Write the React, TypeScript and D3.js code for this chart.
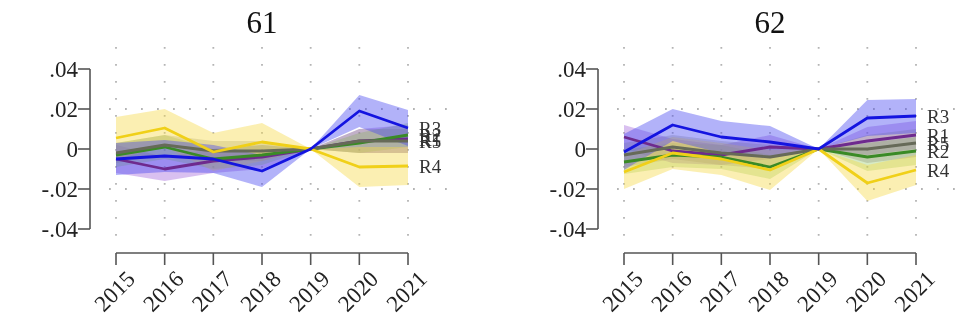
import React, { useRef, useEffect } from "react";
import * as d3 from "d3";

const years = [2015, 2016, 2017, 2018, 2019, 2020, 2021];
const yTicks = [0.04, 0.02, 0, -0.02, -0.04];
const yTickLabels = [".04", ".02", "0", "-.02", "-.04"];
const panelTitles = ["61", "62"];
const seriesNames = ["R1", "R2", "R5", "R4", "R3"];

// panel 61: point estimates and half-width of the band
const est61R1 = [-0.005, -0.010, -0.006, -0.004, 0, 0.004, 0.005];
const ci61R1 = [0.007, 0.006, 0.006, 0.006, 0, 0.006, 0.007];
const est61R2 = [-0.003, 0.001, -0.005, -0.003, 0, 0.003, 0.007];
const ci61R2 = [0.006, 0.006, 0.005, 0.005, 0, 0.005, 0.006];
const est61R3 = [-0.005, -0.0035, -0.005, -0.011, 0, 0.019, 0.0105];
const ci61R3 = [0.008, 0.008, 0.007, 0.008, 0, 0.008, 0.009];
const est61R4 = [0.0055, 0.0105, -0.0015, 0.0035, 0, -0.009, -0.0085];
const ci61R4 = [0.0105, 0.0095, 0.0095, 0.0095, 0, 0.01, 0.0095];
const est61R5 = [-0.002, 0.002, -0.001, -0.001, 0, 0.004, 0.004];
const ci61R5 = [0.005, 0.005, 0.005, 0.005, 0, 0.006, 0.006];

// panel 62
const est62R1 = [0.006, -0.001, -0.003, 0.001, 0, 0.004, 0.007];
const ci62R1 = [0.006, 0.006, 0.005, 0.006, 0, 0.007, 0.007];
const est62R2 = [-0.0065, -0.003, -0.004, -0.009, 0, -0.004, -0.001];
const ci62R2 = [0.006, 0.006, 0.006, 0.006, 0, 0.007, 0.007];
const est62R3 = [-0.0015, 0.012, 0.006, 0.0035, 0, 0.0155, 0.0165];
const ci62R3 = [0.009, 0.008, 0.008, 0.008, 0, 0.009, 0.0085];
const est62R4 = [-0.0115, -0.002, -0.005, -0.0105, 0, -0.017, -0.0105];
const ci62R4 = [0.0085, 0.008, 0.008, 0.01, 0, 0.009, 0.0075];
const est62R5 = [-0.003, 0.001, -0.002, -0.004, 0, 0.0, 0.003];
const ci62R5 = [0.006, 0.006, 0.006, 0.006, 0, 0.007, 0.007];

const lineColors = { R1: "#6e2a8e", R2: "#3a8a26", R3: "#1414e0", R4: "#f0d018", R5: "#666a58" };
const bandColors = { R1: "#9a5ad8", R2: "#84c04a", R3: "#4848f0", R4: "#f6d848", R5: "#8c8c74" };
const bandOpacity = { R1: 0.38, R2: 0.32, R3: 0.42, R4: 0.42, R5: 0.32 };

const panels = [
    {
        title: panelTitles[0], left: 90,
        est: { R1: est61R1, R2: est61R2, R3: est61R3, R4: est61R4, R5: est61R5 },
        ci: { R1: ci61R1, R2: ci61R2, R3: ci61R3, R4: ci61R4, R5: ci61R5 }
    },
    {
        title: panelTitles[1], left: 598,
        est: { R1: est62R1, R2: est62R2, R3: est62R3, R4: est62R4, R5: est62R5 },
        ci: { R1: ci62R1, R2: ci62R2, R3: ci62R3, R4: ci62R4, R5: ci62R5 }
    }
];

export default function App() {
    const svgDiv = useRef<HTMLDivElement>(null);

    useEffect(() => {
        const root = d3.select(svgDiv.current);
        root.selectAll("*").remove();

        const svg = root.append("svg")
            .attr("width", 959)
            .attr("height", 328)
            .style("display", "block")
            .style("font-family", "'Liberation Serif', 'Times New Roman', serif");

        const y = d3.scaleLinear().domain([-0.04, 0.04]).range([229, 69]);

        panels.forEach(p => {
            const g = svg.append("g").attr("transform", `translate(${p.left},0)`);
            const x = d3.scaleLinear().domain([2015, 2021]).range([26, 318]);

            // dotted grid
            g.selectAll("line.vgrid").data(years).enter().append("line")
                .attr("x1", d => x(d)).attr("x2", d => x(d))
                .attr("y1", 47).attr("y2", 238)
                .attr("stroke", "#b4b4b4").attr("stroke-width", 1.8)
                .attr("stroke-dasharray", "1.8 15.2");
            g.selectAll("line.hgrid").data([0.02, -0.02]).enter().append("line")
                .attr("x1", 19).attr("x2", 362)
                .attr("y1", d => y(d)).attr("y2", d => y(d))
                .attr("stroke", "#b4b4b4").attr("stroke-width", 1.8)
                .attr("stroke-dasharray", "1.8 14.2");

            // bands
            seriesNames.forEach(s => {
                const area = d3.area<number>()
                    .x((_, i) => x(years[i]))
                    .y0((d, i) => y(d - p.ci[s][i]))
                    .y1((d, i) => y(d + p.ci[s][i]));
                g.append("path").attr("d", area(p.est[s]))
                    .attr("fill", bandColors[s]).attr("fill-opacity", bandOpacity[s]);
            });
            // lines
            seriesNames.forEach(s => {
                const line = d3.line<number>().x((_, i) => x(years[i])).y(d => y(d));
                g.append("path").attr("d", line(p.est[s]))
                    .attr("fill", "none").attr("stroke", lineColors[s])
                    .attr("stroke-width", 2.8).attr("stroke-linejoin", "round");
            });
            // end labels
            seriesNames.forEach(s => {
                const last = p.est[s][years.length - 1];
                g.append("text").text(s)
                    .attr("x", x(2021) + 11).attr("y", y(last))
                    .attr("dy", "0.35em")
                    .attr("font-size", 19).attr("fill", "#333");
            });

            // y axis
            const yAxis = g.append("g");
            yAxis.append("line").attr("x1", 0).attr("x2", 0).attr("y1", y(0.04)).attr("y2", y(-0.04))
                .attr("stroke", "#555").attr("stroke-width", 1.6);
            yAxis.selectAll("line.tick").data(yTicks).enter().append("line")
                .attr("x1", -12).attr("x2", 0).attr("y1", d => y(d)).attr("y2", d => y(d))
                .attr("stroke", "#555").attr("stroke-width", 1.6);
            yAxis.selectAll("text").data(yTicks).enter().append("text")
                .text((_, i) => yTickLabels[i])
                .attr("x", -12).attr("y", d => y(d)).attr("dy", "0.35em")
                .attr("text-anchor", "end").attr("font-size", 23).attr("fill", "#222");

            // x axis
            const xAxis = g.append("g");
            xAxis.append("line").attr("x1", x(2015)).attr("x2", x(2021)).attr("y1", 253).attr("y2", 253)
                .attr("stroke", "#555").attr("stroke-width", 1.6);
            xAxis.selectAll("line.tick").data(years).enter().append("line")
                .attr("x1", d => x(d)).attr("x2", d => x(d)).attr("y1", 253).attr("y2", 265)
                .attr("stroke", "#555").attr("stroke-width", 1.6);
            xAxis.selectAll("text").data(years).enter().append("text")
                .text(d => d)
                .attr("transform", d => `translate(${x(d) + 9},${269}) rotate(-45)`)
                .attr("text-anchor", "end").attr("dy", "0.7em")
                .attr("font-size", 23).attr("fill", "#222");

            // title
            g.append("text").text(p.title)
                .attr("x", x(2018)).attr("y", 33)
                .attr("text-anchor", "middle").attr("font-size", 31).attr("fill", "#111");
        });
    }, []);

    return <div ref={svgDiv} style={{ position: "fixed", left: 0, top: 0 }}></div>;
}
